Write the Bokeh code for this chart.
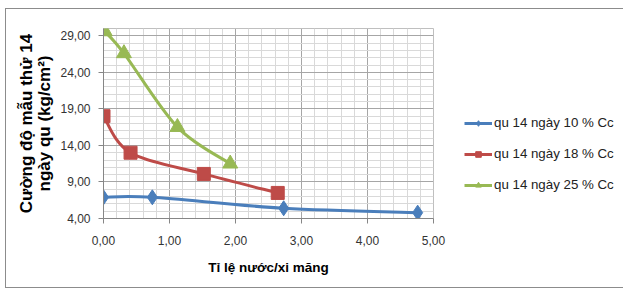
import numpy as np
from bokeh.plotting import figure
from bokeh.models import (FixedTicker, CustomJSTickFormatter, Legend, LegendItem,
                          ColumnDataSource, Range1d)
from bokeh.embed import file_html
from bokeh.resources import INLINE

# ---- data ----
x_10 = [0.00, 0.74, 2.73, 4.76]
y_10 = [6.9, 6.9, 5.4, 4.8]
x_18 = [0.00, 0.41, 1.52, 2.64]
y_18 = [18.0, 13.0, 10.1, 7.5]
x_25 = [0.02, 0.31, 1.12, 1.92]
y_25 = [29.6, 26.6, 16.5, 11.5]
names = ["qu 14 ngày 10 % Cc", "qu 14 ngày 18 % Cc", "qu 14 ngày 25 % Cc"]
x_ticks = [0, 1, 2, 3, 4, 5]
y_ticks = [4, 9, 14, 19, 24, 29]

colors = ["#4a7ebb", "#be4b48", "#98b954"]
markers = ["diamond", "square", "triangle"]
msizes = [15, 13, 15]

p = figure(frame_width=330, frame_height=190, output_backend="svg",
           toolbar_location=None,
           x_range=Range1d(0, 5), y_range=Range1d(4, 30),
           min_border_left=97, min_border_right=179, min_border_top=19,
           min_border_bottom=69, background_fill_color="white",
           border_fill_color="white",
           styles={"border": "1px solid #8c8c8c", "margin-left": "5px",
                   "margin-top": "8px"})
p.outline_line_color = "#bfbfbf"

# axes
fmt = CustomJSTickFormatter(code="return tick.toFixed(2).replace('.', ',');")
minor_x = [round(i * 0.2, 1) for i in range(26)]
minor_y = list(range(4, 31))
p.xaxis.ticker = FixedTicker(ticks=x_ticks, minor_ticks=minor_x)
p.yaxis.ticker = FixedTicker(ticks=y_ticks, minor_ticks=minor_y)
p.xaxis.formatter = fmt
p.yaxis.formatter = fmt
for ax in (p.xaxis, p.yaxis):
    ax.axis_line_color = "#868686"
    ax.major_tick_line_color = "#868686"
    ax.major_tick_out = 5
    ax.major_tick_in = 0
    ax.minor_tick_out = 0
    ax.minor_tick_in = 0
    ax.major_label_text_font = "Liberation Sans"
    ax.major_label_text_font_size = "12px"
    ax.major_label_text_color = "#333333"
    ax.axis_label_text_font = "Liberation Sans"
    ax.axis_label_text_font_style = "bold"
    ax.axis_label_text_color = "black"
p.xaxis.axis_label = "Tỉ lệ nước/xi măng"
p.xaxis.axis_label_text_font_size = "13.5px"
p.xaxis.major_label_standoff = 12
p.xaxis.axis_label_standoff = 12
p.yaxis.axis_label = "Cường độ mẫu thử 14\nngày qu (kg/cm²)"
p.yaxis.axis_label_text_font_size = "17px"
p.yaxis.axis_label_text_line_height = 0.95
p.yaxis.major_label_standoff = 8
p.yaxis.axis_label_standoff = 3

p.xgrid.ticker = FixedTicker(ticks=x_ticks, minor_ticks=minor_x)
p.ygrid.ticker = FixedTicker(ticks=y_ticks, minor_ticks=minor_y)
for g in (p.xgrid, p.ygrid):
    g.grid_line_color = "#a6a6a6"
    g.grid_line_alpha = 1
    g.minor_grid_line_color = "#d9d9d9"

items = []
for xs, ys, c, m, s, name in zip([x_10, x_18, x_25], [y_10, y_18, y_25],
                                 colors, markers, msizes, names):
    xa = np.array(xs, dtype=float)
    ya = np.array(ys, dtype=float)
    n = len(xa)
    x0, y0, x1, y1, cx0, cy0, cx1, cy1 = ([] for _ in range(8))
    for i in range(n - 1):
        ip = max(i - 1, 0)
        inn = min(i + 2, n - 1)
        x0.append(xa[i]); y0.append(ya[i])
        x1.append(xa[i + 1]); y1.append(ya[i + 1])
        cx0.append(xa[i] + (xa[i + 1] - xa[ip]) / 6)
        cy0.append(ya[i] + (ya[i + 1] - ya[ip]) / 6)
        cx1.append(xa[i + 1] - (xa[inn] - xa[i]) / 6)
        cy1.append(ya[i + 1] - (ya[inn] - ya[i]) / 6)
    src = ColumnDataSource(dict(x0=x0, y0=y0, x1=x1, y1=y1,
                                cx0=cx0, cy0=cy0, cx1=cx1, cy1=cy1))
    br = p.bezier(x0="x0", y0="y0", x1="x1", y1="y1", cx0="cx0", cy0="cy0",
                  cx1="cx1", cy1="cy1", source=src, line_color=c, line_width=3)
    sc = p.scatter(xs, ys, marker=m, size=s, fill_color=c, line_color=c)
    items.append(LegendItem(label=name, renderers=[br, sc]))

legend = Legend(items=items, location=(31, 26), border_line_color=None,
                background_fill_alpha=0, label_text_font="Liberation Sans",
                label_text_font_size="13.3px", label_text_color="#222222",
                glyph_width=28, glyph_height=14, spacing=16, padding=0,
                margin=0, label_standoff=2)
p.add_layout(legend, "right")

open("out.html", "w").write(file_html(p, INLINE))
